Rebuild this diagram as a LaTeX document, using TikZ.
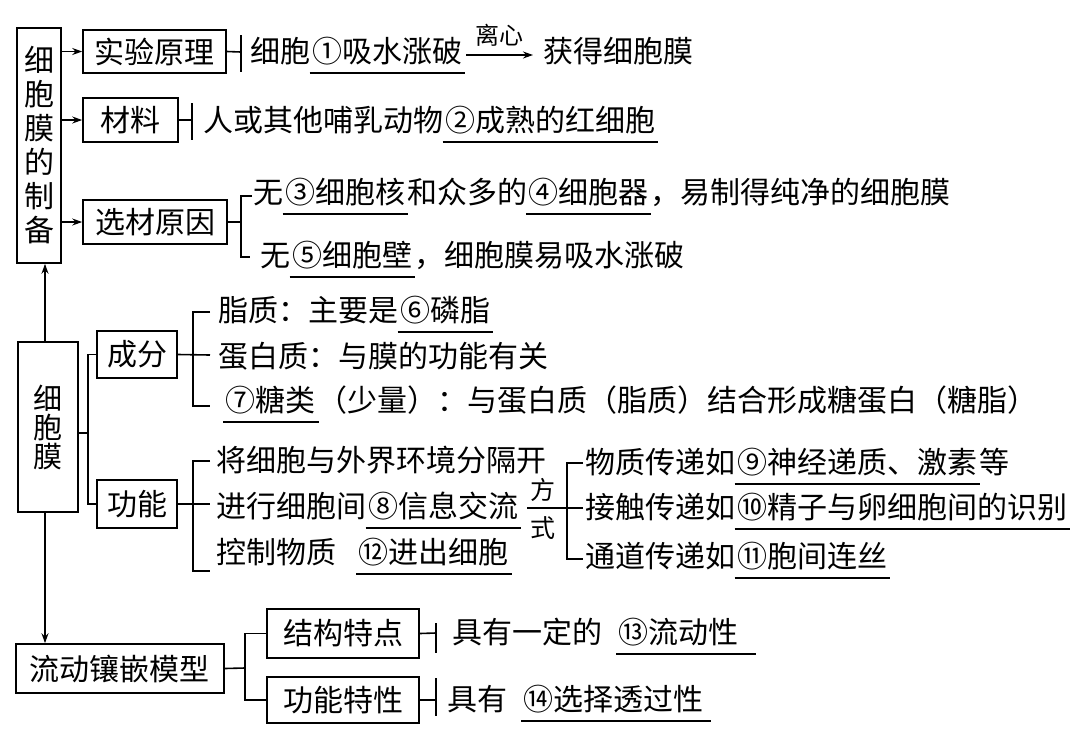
\documentclass[tikz,border=0pt]{standalone}
\usepackage{fontspec}
\setmainfont{Noto Sans CJK SC}
\usetikzlibrary{arrows.meta}
\newcommand\myfs{\fontsize{30}{34}\selectfont}
\newcommand\myfsm{\fontsize{29}{29}\selectfont}
\newcommand\myfss{\fontsize{24}{24}\selectfont}
\newcommand\myfsf{\fontsize{25}{25}\selectfont}
\begin{document}
\begin{tikzpicture}[x=1pt,y=-1pt,line width=1.6pt,
  box/.style={draw,line width=1.6pt,inner sep=0pt,font=\myfs},
  txt/.style={inner sep=0pt,anchor=west,text height=25pt,text depth=5pt,font=\myfs},
  arr/.style={-{Stealth[length=10pt,width=7pt]}},
  ul/.style={line width=1.6pt}]
\useasboundingbox[fill=white] (0,0) rectangle (1080,748);

% ---------- preparation ----------
\node[box,minimum width=44pt,minimum height=235pt,align=center] (prep) at (39,145.5) {细\\胞\\膜\\的\\制\\备};
\node[box,minimum width=143pt,minimum height=43pt] (b1) at (154.5,51.5) {实验原理};
\node[box,minimum width=95pt,minimum height=44pt] (b2) at (130.5,120) {材料};
\node[box,minimum width=144pt,minimum height=44pt] (b3) at (155,222) {选材原因};
\draw[arr] (prep.east |- b1) -- (b1.west);
\draw[arr] (prep.east |- b2) -- (b2.west);
\draw[arr] (prep.east |- b3) -- (b3.west);

% line 1
\coordinate (k1) at (241,52);
\draw (b1.east) -- (k1);
\draw ([yshift=17pt]k1) -- ([yshift=-20pt]k1);
\node[txt] (t1a) at (250,52) {细胞};
\node[txt] (t1b) at (t1a.east) {①吸水涨破};
\draw[ul] ([xshift=-2pt,yshift=-5pt]t1b.south west) -- ([xshift=2pt,yshift=-5pt]t1b.south east);
\node[txt] (t1c) at (543,52) {获得细胞膜};
\draw[arr,line width=1.3pt] ([xshift=3pt,yshift=-3pt]t1b.east) -- node[above=8pt,inner sep=0pt,font=\myfss] (lx) {离心} ([xshift=-10pt,yshift=-3pt]t1c.west);

% line 2
\coordinate (k2) at (192,120);
\draw (b2.east) -- (k2);
\draw ([yshift=17pt]k2) -- ([yshift=-20pt]k2);
\node[txt] (t2a) at (203,121) {人或其他哺乳动物};
\node[txt] (t2b) at (t2a.east) {②成熟的红细胞};
\draw[ul] ([xshift=-2pt,yshift=-5pt]t2b.south west) -- ([xshift=2pt,yshift=-5pt]t2b.south east);

% lines 3,4
\coordinate (k3) at (241,222);
\coordinate (k3t) at (252,196);
\coordinate (k3b) at (250,257);
\draw (b3.east) -- (k3);
\draw (k3t) -| (k3) |- (k3b);
\node[txt] (t3a) at (253,193) {无};
\node[txt] (t3b) at (t3a.east) {③细胞核};
\node[txt] (t3c) at (t3b.east) {和众多的};
\node[txt] (t3d) at (t3c.east) {④细胞器};
\node[txt] (t3e) at (t3d.east) {，易制得纯净的细胞膜};
\draw[ul] ([xshift=-2pt,yshift=-5pt]t3b.south west) -- ([xshift=2pt,yshift=-5pt]t3b.south east);
\draw[ul] ([xshift=-2pt,yshift=-5pt]t3d.south west) -- ([xshift=2pt,yshift=-5pt]t3d.south east);
\node[txt] (t4a) at (260,256) {无};
\node[txt] (t4b) at (t4a.east) {⑤细胞壁};
\node[txt] (t4c) at (t4b.east) {，细胞膜易吸水涨破};
\draw[ul] ([xshift=-2pt,yshift=-5pt]t4b.south west) -- ([xshift=2pt,yshift=-5pt]t4b.south east);

% ---------- cell membrane ----------
\node[box,minimum width=60pt,minimum height=170pt,align=center,font=\myfsm] (m2) at (48,427) {细\\胞\\膜};
\draw[arr] ([xshift=-3pt]m2.north) -- ([xshift=-3pt]m2.north |- prep.south);
\node[box,minimum width=80pt,minimum height=47pt] (b4) at (137,354.5) {成分};
\node[box,minimum width=80pt,minimum height=48pt] (b5) at (137,504) {功能};
\coordinate (k4) at (88,433);
\draw (m2.east |- k4) -- (k4);
\draw (b4.west) -| (k4) |- (b5.west);

% composition
\coordinate (k5) at (193,355);
\coordinate (k5t) at (210,312);
\coordinate (k5m) at (210,355);
\coordinate (k5b) at (210,406);
\draw (b4.east) -- (k5m);
\draw (k5t) -| (k5) |- (k5b);
\node[txt] (t5a) at (218,311) {脂质：主要是};
\node[txt] (t5b) at (t5a.east) {⑥磷脂};
\draw[ul] ([xshift=-2pt,yshift=-5pt]t5b.south west) -- ([xshift=2pt,yshift=-5pt]t5b.south east);
\node[txt] (t6) at (218,357) {蛋白质：与膜的功能有关};
\node[txt] (t7a) at (225,401) {⑦糖类};
\node[txt] (t7b) at (t7a.east) {（少量）：与蛋白质（脂质）结合形成糖蛋白（糖脂）};
\draw[ul] ([xshift=-2pt,yshift=-5pt]t7a.south west) -- ([xshift=2pt,yshift=-5pt]t7a.south east);

% function
\coordinate (k6) at (193,504);
\coordinate (k6t) at (210,461);
\coordinate (k6m) at (210,504);
\coordinate (k6b) at (210,571);
\draw (b5.east) -- (k6m);
\draw (k6t) -| (k6) |- (k6b);
\node[txt] (t8) at (216,461) {将细胞与外界环境分隔开};
\node[txt] (t9a) at (216,507) {进行细胞间};
\node[txt] (t9b) at (t9a.east) {⑧信息交流};
\draw[ul] ([xshift=-2pt,yshift=-5pt]t9b.south west) -- ([xshift=2pt,yshift=-5pt]t9b.south east);
\node[txt] (t10a) at (216,553) {控制物质};
\node[txt] (t10b) at (358,553) {⑫进出细胞};
\draw[ul] ([xshift=-2pt,yshift=-5pt]t10b.south west) -- ([xshift=2pt,yshift=-5pt]t10b.south east);

% ways
\coordinate (k7) at (567,508);
\coordinate (k7t) at (583,463);
\coordinate (k7m) at (583,508);
\coordinate (k7b) at (583,559);
\draw ([xshift=8pt]t9b.east |- k7) -- (k7m);
\draw (k7t) -| (k7) |- (k7b);
\node[inner sep=0pt,font=\myfsf] (fang) at (543,490) {方};
\node[inner sep=0pt,font=\myfsf] (shi) at (543,528) {式};
\node[txt] (t11a) at (585,463) {物质传递如};
\node[txt] (t11b) at (t11a.east) {⑨神经递质、激素};
\node[txt] (t11c) at (t11b.east) {等};
\draw[ul] ([xshift=-2pt,yshift=-5pt]t11b.south west) -- ([xshift=2pt,yshift=-5pt]t11b.south east);
\node[txt] (t12a) at (585,508) {接触传递如};
\node[txt] (t12b) at (t12a.east) {⑩精子与卵细胞间的识别};
\draw[ul] ([xshift=-2pt,yshift=-5pt]t12b.south west) -- ([xshift=2pt,yshift=-5pt]t12b.south east);
\node[txt] (t13a) at (585,557) {通道传递如};
\node[txt] (t13b) at (t13a.east) {⑪胞间连丝};
\draw[ul] ([xshift=-2pt,yshift=-5pt]t13b.south west) -- ([xshift=2pt,yshift=-5pt]t13b.south east);

% ---------- fluid mosaic model ----------
\node[box,minimum width=208pt,minimum height=49pt] (m3) at (120,668.5) {流动镶嵌模型};
\draw[arr] ([xshift=-3pt]m2.south) -- ([xshift=-3pt]m2.south |- m3.north);
\node[box,minimum width=152pt,minimum height=49pt] (b6) at (343,633.5) {结构特点};
\node[box,minimum width=152pt,minimum height=46pt] (b7) at (343,700) {功能特性};
\coordinate (k8) at (245,668);
\draw (m3.east) -- (k8);
\draw (b6.west) -| (k8) |- (b7.west);
\coordinate (k9) at (436,633);
\draw (b6.east) -- (k9);
\draw ([yshift=10pt]k9) -- ([yshift=-20pt]k9);
\coordinate (k10) at (436,700);
\draw (b7.east) -- (k10);
\draw ([yshift=22pt]k10) -- ([yshift=-16pt]k10);
\node[txt] (t14a) at (452,633) {具有一定的};
\node[txt] (t14b) at (618,633) {⑬流动性};
\draw[ul] ([xshift=-2pt,yshift=-5pt]t14b.south west) -- ([xshift=16pt,yshift=-5pt]t14b.south east);
\node[txt] (t15a) at (447,700) {具有};
\node[txt] (t15b) at (523,700) {⑭选择透过性};
\draw[ul] ([xshift=-2pt,yshift=-5pt]t15b.south west) -- ([xshift=6pt,yshift=-5pt]t15b.south east);
\end{tikzpicture}
\end{document}
